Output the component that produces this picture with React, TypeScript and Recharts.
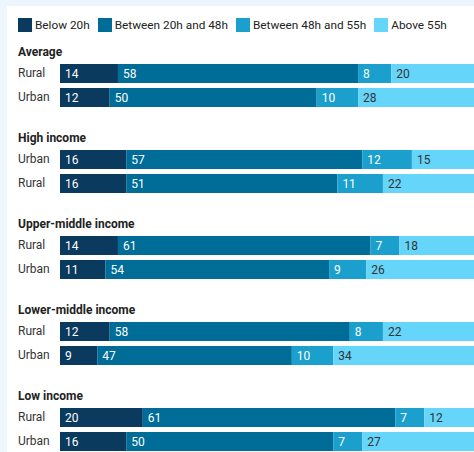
import { Bar, BarChart, LabelList, XAxis, YAxis } from 'recharts';

const groups = ['Average', 'High income', 'Upper-middle income', 'Lower-middle income', 'Low income'];
const rowLabels = [
  ['Rural', 'Urban'],
  ['Urban', 'Rural'],
  ['Rural', 'Urban'],
  ['Rural', 'Urban'],
  ['Rural', 'Urban'],
];
const below20 = [[14, 12], [16, 16], [14, 11], [12, 9], [20, 16]];
const between20and48 = [[58, 50], [57, 51], [61, 54], [58, 47], [61, 50]];
const between48and55 = [[8, 10], [12, 11], [7, 9], [8, 10], [7, 7]];
const above55 = [[20, 28], [15, 22], [18, 26], [22, 34], [12, 27]];

const seriesKeys = ['below20', 'between20and48', 'between48and55', 'above55'];
const seriesNames = ['Below 20h', 'Between 20h and 48h', 'Between 48h and 55h', 'Above 55h'];
const seriesColors = ['#0b3a5f', '#006d98', '#1b9fcc', '#66d5fa'];
const labelColors = ['#ffffff', '#ffffff', '#ffffff', '#333333'];

const FONT = 'Roboto, "Noto Sans", sans-serif';

function RowTick({ y, payload }: any) {
  return (
    <text x={11} y={y} dy={4} fontSize={12} fill="#333" fontFamily={FONT} textAnchor="start">
      {payload.value}
    </text>
  );
}

function GroupChart({ index }: { index: number }) {
  const data = rowLabels[index].map((label, i) => ({
    label,
    below20: below20[index][i],
    between20and48: between20and48[index][i],
    between48and55: between48and55[index][i],
    above55: above55[index][i],
  }));
  return (
    <div style={{ height: 86 }}>
      <div
        style={{
          height: 18,
          lineHeight: '18px',
          paddingLeft: 11,
          fontSize: 12,
          fontWeight: 700,
          color: '#222',
        }}
      >
        {groups[index]}
      </div>
      <BarChart
        width={467}
        height={48}
        data={data}
        layout="vertical"
        margin={{ top: 0, right: 0, bottom: 0, left: 0 }}
        barCategoryGap={0}
      >
        <XAxis type="number" domain={[0, 100]} hide />
        <YAxis
          type="category"
          dataKey="label"
          width={53}
          axisLine={false}
          tickLine={false}
          tick={<RowTick />}
        />
        {seriesKeys.map((key, i) => (
          <Bar
            key={key}
            dataKey={key}
            stackId="a"
            fill={seriesColors[i]}
            barSize={19}
            isAnimationActive={false}
          >
            <LabelList
              dataKey={key}
              position="insideLeft"
              offset={5}
              fill={labelColors[i]}
              fontSize={12}
              fontFamily={FONT}
            />
          </Bar>
        ))}
      </BarChart>
    </div>
  );
}

export default function App() {
  return (
    <>
      <style>{`body{margin:0;background:#eef6fd;}`}</style>
      <div
        style={{
          position: 'absolute',
          left: 7,
          top: 6,
          width: 467,
          height: 446,
          background: '#ffffff',
          overflow: 'hidden',
          fontFamily: FONT,
        }}
      >
        <div style={{ height: 36, display: 'flex', alignItems: 'center', paddingLeft: 11, paddingTop: 1 }}>
          {seriesNames.map((name, i) => (
            <div key={name} style={{ display: 'flex', alignItems: 'center', marginRight: 8 }}>
              <span style={{ width: 14, height: 14, background: seriesColors[i], marginRight: 3, display: 'inline-block' }} />
              <span style={{ fontSize: 11.8, color: '#222' }}>{name}</span>
            </div>
          ))}
        </div>
        {groups.map((g, i) => (
          <GroupChart key={g} index={i} />
        ))}
      </div>
    </>
  );
}
